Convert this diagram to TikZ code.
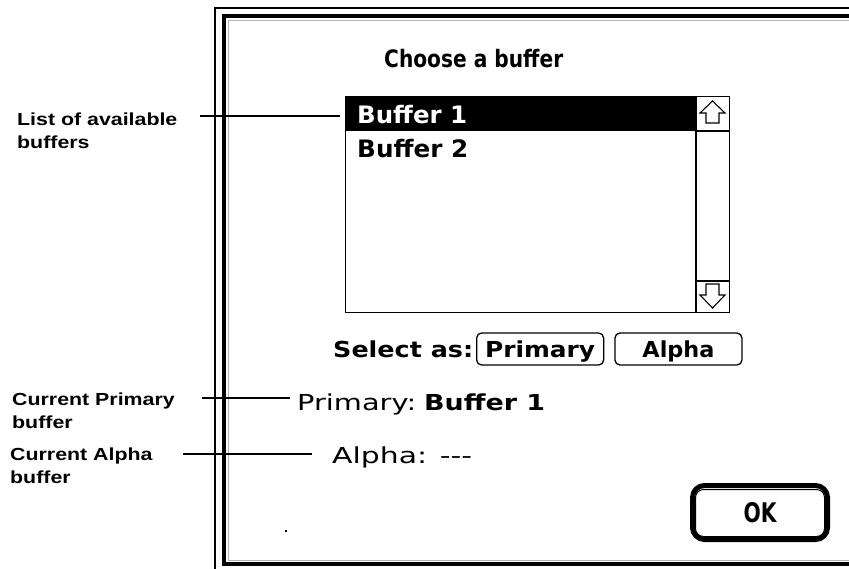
\documentclass[tikz,border=0pt]{standalone}
\usepackage{fontspec}
\usepackage{graphicx}
\usetikzlibrary{positioning}
\newfontfamily\labelfont[FakeStretch=1.22]{Liberation Sans}
\newfontfamily\dlgfont{DejaVu Sans}
\newcommand\fitw[2]{\resizebox{#1pt}{\height}{#2}}

\tikzset{
  lbl/.style={anchor=north west, inner sep=0pt, align=left,
    font=\labelfont\bfseries\fontsize{17.5}{23}\selectfont},
  dlgbold/.style={anchor=base west, inner sep=0pt,
    font=\dlgfont\bfseries\fontsize{24}{28}\selectfont},
  dlgsmall/.style={anchor=base west, inner sep=0pt,
    font=\dlgfont\bfseries\fontsize{22}{26}\selectfont},
  dlgplain/.style={anchor=base west, inner sep=0pt,
    font=\dlgfont\fontsize{22}{26}\selectfont},
  btn/.style={draw, line width=1.3pt, rounded corners=5pt,
    minimum width=127pt, minimum height=32pt, inner sep=0pt,
    text height=16pt, text depth=0pt,
    font=\dlgfont\bfseries\fontsize{22}{26}\selectfont},
  leader/.style={line width=1.3pt}
}

\begin{document}
\begin{tikzpicture}[x=1pt,y=-1pt]
  \clip (0,0) rectangle (849,568);
  % dialog frame
  \draw[line width=1.5pt] (215,8) rectangle (880,600);
  \draw[line width=4pt] (224,16) rectangle (880,564);
  \draw[gray!60, line width=0.8pt] (228,20) rectangle (880,560);

  \node[dlgbold] (title) at (384,67) {\fitw{179}{Choose a buffer}};

  % list with scroll bar
  \fill (345,96) rectangle (696,131);
  \node[draw, line width=1.3pt, anchor=north west, inner sep=0pt,
    minimum width=384pt, minimum height=216pt] (listbox) at (345,96) {};
  \draw[line width=1.3pt] (696,96) -- (696,312)
    (696,131) -- (729,131) (696,281) -- (729,281);
  \draw[line width=1.1pt] (712.5,101) -- (725,113) -- (719,113) -- (719,123)
    -- (706,123) -- (706,113) -- (700,113) -- cycle;
  \draw[line width=1.1pt] (712.5,308) -- (725,295) -- (719,295) -- (719,284)
    -- (706,284) -- (706,295) -- (700,295) -- cycle;
  \node[dlgbold, text=white] (buf1) at (357,123) {\fitw{110}{Buffer 1}};
  \node[dlgbold] (buf2) at (357,157) {\fitw{111}{Buffer 2}};

  % select buttons
  \node[dlgsmall] (select) at (333,357) {\fitw{140}{Select as:}};
  \node[btn, anchor=west] (primbtn) at (476,349) {\fitw{110}{Primary}};
  \node[btn, right=10pt of primbtn] (alphabtn) {\fitw{72}{Alpha}};

  % current buffers
  \node[dlgplain] (curprim) at (297,410) {\fitw{119}{Primary:}};
  \node[dlgsmall] (curprimval) at (424,410) {\fitw{121}{Buffer 1}};
  \node[dlgplain] (curalpha) at (332,463) {\fitw{140}{Alpha: ---}};

  \node[draw, line width=5pt, rounded corners=12pt, minimum width=135pt,
    minimum height=54pt, inner sep=0pt, text height=20pt, text depth=0pt,
    font=\dlgfont\bfseries\fontsize{27}{30}\selectfont] (okbtn) at (760,512.5) {\fitw{33}{OK}};
  \draw[line width=1pt, rounded corners=8pt] ([shift={(5.5,6.5)}]okbtn.north west)
    rectangle ([shift={(-5.5,-5.5)}]okbtn.south east);
  \fill (285,530) rectangle (287,532);

  % callouts
  \node[lbl] (lbllist) at (17,112.5) {List of available\\buffers};
  \node[lbl] (lblprim) at (12,393) {Current Primary\\buffer};
  \node[lbl] (lblalpha) at (10,448) {Current Alpha\\buffer};
  \coordinate (listfrom) at (200,116);
  \coordinate (primfrom) at (202,398);
  \coordinate (alphafrom) at (183,454);
  \draw[leader, shorten >=5pt] (listfrom) -- (listfrom -| listbox.west);
  \draw[leader, shorten >=7pt] (primfrom) -- (primfrom -| curprim.west);
  \draw[leader, shorten >=20pt] (alphafrom) -- (alphafrom -| curalpha.west);
\end{tikzpicture}
\end{document}
